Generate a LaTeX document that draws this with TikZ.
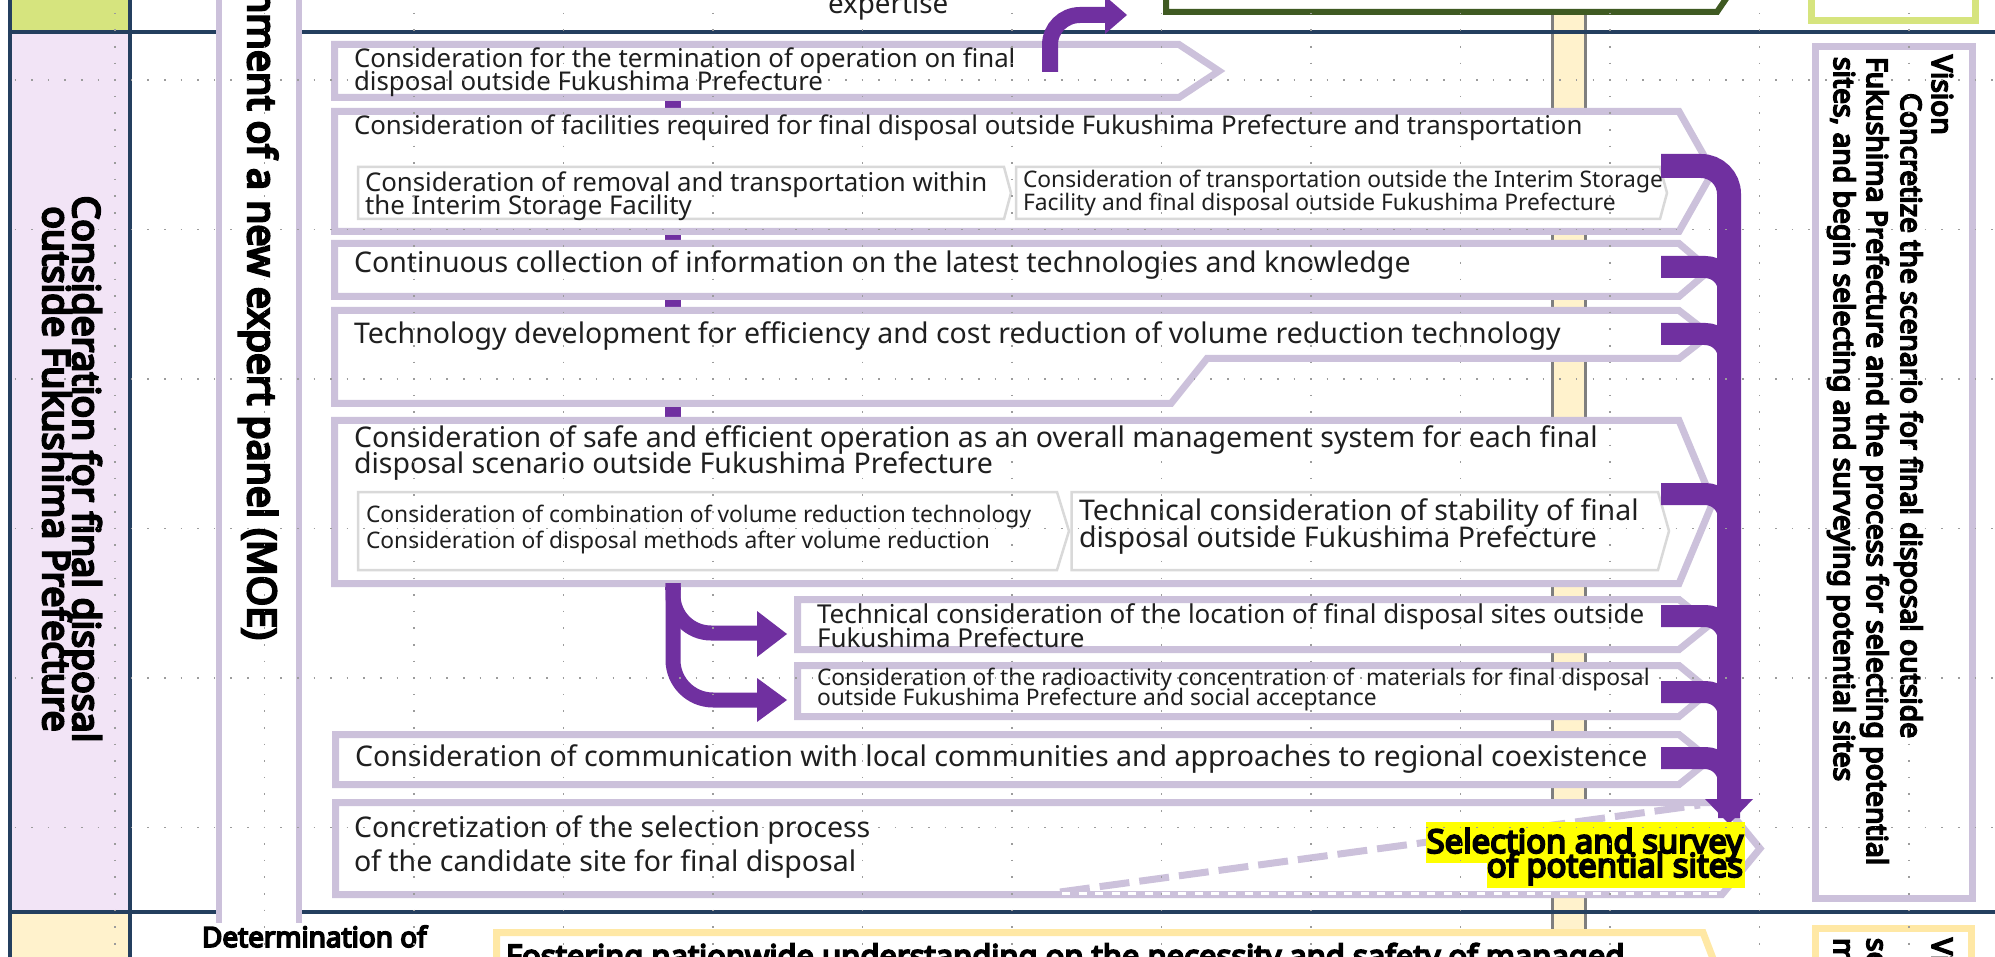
\documentclass[tikz,border=0pt]{standalone}
\usepackage{fontspec}
\setmainfont{Noto Sans}
\newfontfamily\nsbold{Noto Sans}[FakeBold=6]
\definecolor{lav}{HTML}{CCC1DB}
\definecolor{purp}{HTML}{7030A0}
\definecolor{navy}{HTML}{243F5F}
\definecolor{olive}{HTML}{3F5A22}
\definecolor{lgreen}{HTML}{D6E47E}
\definecolor{pinkc}{HTML}{F2E4F6}
\definecolor{cream}{HTML}{FFF2CC}
\definecolor{creamb}{HTML}{FFE8A5}
\definecolor{grayb}{HTML}{D9D9D9}
\definecolor{barg}{HTML}{7F7F7F}
\definecolor{dotc}{HTML}{9C9C9C}
\definecolor{hl}{HTML}{FFFF00}
\newcommand\myfa{\fontsize{25.8pt}{26pt}\selectfont}
\newcommand\myfb{\fontsize{28.5pt}{29pt}\selectfont}
\newcommand\myfc{\fontsize{22.8pt}{23pt}\selectfont}
\newcommand\myff{\fontsize{26pt}{26pt}\selectfont}
\newcommand\myfx{\fontsize{27.8pt}{28pt}\selectfont}
\newcommand\myft{\nsbold\fontsize{37.4pt}{37pt}\selectfont}
\newcommand\myfp{\nsbold\fontsize{39.2pt}{39pt}\selectfont}
\newcommand\myfv{\nsbold\fontsize{28.3pt}{28pt}\selectfont}
\newcommand\myfy{\nsbold\fontsize{32.8pt}{33pt}\selectfont}
\newcommand\myfd{\nsbold\fontsize{27.9pt}{28pt}\selectfont}
\newcommand\myfo{\nsbold\fontsize{31pt}{31pt}\selectfont}
\tikzset{
  box/.style={draw=lav, line width=7pt, fill=white, line join=miter},
  ibox/.style={draw=grayb, line width=2.5pt, fill=white, line join=miter},
  t/.style={anchor=base west, inner sep=0pt, outer sep=0pt, text=black!88},
  te/.style={anchor=base east, inner sep=0pt, outer sep=0pt},
  vt/.style={anchor=base west, inner sep=0pt, outer sep=0pt, rotate=-90},
  pline/.style={draw=purp, line width=#1},
  phead/.style={fill=purp},
  dotline/.style={draw=dotc, line width=1.6pt, dash pattern=on 1.6pt off 15.01pt},
}
\begin{document}
\begin{tikzpicture}[x=1pt,y=-1pt]
\useasboundingbox (0,0) rectangle (1995,957);
\clip (0,0) rectangle (1995,957);
\fill[white] (0,0) rectangle (1995,957);
% left column cells
\fill[lgreen] (10,-5) rectangle (130,32);
\fill[pinkc] (10,32) rectangle (130,912);
\fill[cream] (10,912) rectangle (130,962);
% timeline bar
\draw[barg, line width=3pt, fill=cream] (1552.5,-5) rectangle (1585.5,962);
% separator lines
\draw[navy, line width=4pt] (8,32) -- (2000,32);
\draw[navy, line width=4pt] (8,912) -- (2000,912);
\draw[navy, line width=4pt] (10,-5) -- (10,962);
\draw[navy, line width=4pt] (130,-5) -- (130,962);
% expert panel column
\fill[white] (216,-5) rectangle (302,923);
\draw[lav, line width=6.3pt] (219,-5) -- (219,923);
\draw[lav, line width=6.3pt] (299,-5) -- (299,923);
\node[anchor=base east, inner sep=0pt, rotate=-90, font=\myfp] (panel) at (248,640) {Establishment of a new expert panel (MOE)};
% left title
\node[anchor=base, inner sep=0pt, rotate=-90, font=\myft] (lt1) at (73,469) {Consideration for final disposal};
\node[anchor=base, inner sep=0pt, rotate=-90, font=\myft] (lt2) at (43,469) {outside Fukushima Prefecture};
% top row
\node[t, font=\myfx] (exp) at (828,14) {expertise};
\draw[olive, line width=6pt, fill=white] (1166,-10) -- (1166,12) -- (1717,12) -- (1732,-10);
\draw[lgreen, line width=7pt] (1811,-10) -- (1811,21) -- (1975,21) -- (1975,-10);
% purple line behind boxes
\draw[pline=16pt] (673,95) -- (673,590);
% Box A
\draw[box] (334.5,44.5) -- (1179,44.5) -- (1219,71) -- (1179,97.5) -- (334.5,97.5) -- cycle;
\node[t, font=\myfa] (A1) at (354,68) {Consideration for the termination of operation on final};
\node[t, font=\myfa] (A2) at (354,90.5) {disposal outside Fukushima Prefecture};
% Box B
\draw[box] (334.5,111.5) -- (1679,111.5) -- (1713,171.5) -- (1679,231.5) -- (334.5,231.5) -- cycle;
\node[t, font=\myfa] (B) at (354,135) {Consideration of facilities required for final disposal outside Fukushima Prefecture and transportation};
\draw[ibox] (358,167) -- (1004,167) -- (1011,193) -- (1004,219) -- (358,219) -- cycle;
\node[t, font=\myfa] (B1a) at (365,192) {Consideration of removal and transportation within};
\node[t, font=\myfa] (B1b) at (365,215) {the Interim Storage Facility};
\draw[ibox] (1016,167) -- (1660,167) -- (1667,193) -- (1660,219) -- (1016,219) -- cycle;
\node[t, font=\myfc] (B2a) at (1023,188) {Consideration of transportation outside the Interim Storage};
\node[t, font=\myfc] (B2b) at (1023,211) {Facility and final disposal outside Fukushima Prefecture};
% Box C
\draw[box] (334.5,243.5) -- (1679,243.5) -- (1710,270) -- (1679,296.5) -- (334.5,296.5) -- cycle;
\node[t, font=\myfb] (C) at (354,273) {Continuous collection of information on the latest technologies and knowledge};
% Box D
\draw[box] (334.5,310.5) -- (1679,310.5) -- (1710,334.5) -- (1679,358.5) -- (1207,358.5) -- (1171,403.5) -- (334.5,403.5) -- cycle;
\node[t, font=\myfb] (D) at (354,344) {Technology development for efficiency and cost reduction of volume reduction technology};
% Box E
\draw[box] (334.5,420.5) -- (1679,420.5) -- (1713,502) -- (1679,583.5) -- (334.5,583.5) -- cycle;
\node[t, font=\myfb] (E1) at (354,447) {Consideration of safe and efficient operation as an overall management system for each final};
\node[t, font=\myfb] (E2) at (354,473) {disposal scenario outside Fukushima Prefecture};
\draw[ibox] (358,492) -- (1057,492) -- (1069,531) -- (1057,570) -- (358,570) -- cycle;
\node[t, font=\myfc] (Ea) at (366,522) {Consideration of combination of volume reduction technology};
\node[t, font=\myfc] (Eb) at (366,548) {Consideration of disposal methods after volume reduction};
\draw[ibox] (1071.5,492) -- (1658,492) -- (1669,531) -- (1658,570) -- (1071.5,570) -- cycle;
\node[t, font=\myfb] (Ec) at (1079,520) {Technical consideration of stability of final};
\node[t, font=\myfb] (Ed) at (1079,547) {disposal outside Fukushima Prefecture};
% Box F
\draw[box] (797.5,599.5) -- (1679,599.5) -- (1710,624.5) -- (1679,649.5) -- (797.5,649.5) -- cycle;
\node[t, font=\myff] (F1) at (817,623) {Technical consideration of the location of final disposal sites outside};
\node[t, font=\myff] (F2) at (817,647) {Fukushima Prefecture};
% Box G
\draw[box] (797.5,665.5) -- (1679,665.5) -- (1710,691) -- (1679,716.5) -- (797.5,716.5) -- cycle;
\node[t, font=\myfc] (G1) at (817,685) {Consideration of the radioactivity concentration of~ materials for final disposal};
\node[t, font=\myfc] (G2) at (817,705.5) {outside Fukushima Prefecture and social acceptance};
% Box H
\draw[box] (335.5,734.5) -- (1679,734.5) -- (1710,759.5) -- (1679,784.5) -- (335.5,784.5) -- cycle;
\node[t, font=\myfb] (H) at (355,766) {Consideration of communication with local communities and approaches to regional coexistence};
% Box I
\draw[box] (335.5,802.5) -- (1722,802.5) -- (1760,848.5) -- (1722,894.5) -- (335.5,894.5) -- cycle;
\draw[lav, line width=7pt, dash pattern=on 30pt off 10pt] (1060,892) -- (1700,805);
\draw[white, line width=3pt, dash pattern=on 8pt off 8.6pt] (1062,893) -- (1722,893);
\node[t, font=\myfb] (I1) at (354,837) {Concretization of the selection process};
\node[t, font=\myfb] (I2) at (354,871) {of the candidate site for final disposal};
% purple arrows on top
\coordinate (topS) at (1050,72);
\draw[pline=16pt, rounded corners=30pt] (topS) -- (1050,15) -- (1107,15);
\fill[phead] (1105,-4) -- (1127,15) -- (1105,34) -- cycle;
\coordinate (bigS) at (1661,166);
\coordinate (bigE) at (1729,801);
\draw[pline=24pt, rounded corners=28pt] (bigS) -- (1729,166) -- (bigE);
\fill[phead] (1705,799) -- (1729,824) -- (1753,799) -- cycle;
\foreach \yy in {267,334,494,616,692,758}{
  \draw[pline=22pt, rounded corners=24pt] (1661,\yy) -- (1729,\yy) -- (1729,\yy+60);
}
\draw[pline=15pt, rounded corners=38pt] (673,583) -- (673,633) -- (759,633);
\fill[phead] (757,611) -- (787,634) -- (757,657) -- cycle;
\draw[pline=15pt, rounded corners=40pt] (673,583) -- (673,700) -- (759,700);
\fill[phead] (757,678) -- (787,700) -- (757,722) -- cycle;
% highlighted label
\fill[hl] (1426,822) rectangle (1745,863);
\fill[hl] (1487,860) rectangle (1745,888);
\node[te, font=\myfy] (S1) at (1743,853) {Selection and survey};
\node[te, font=\myfy] (S2) at (1743,877) {of potential sites};
% vision box
\draw[lav, line width=7pt] (1815.5,46.5) rectangle (1972.5,898.5);
\node[vt, font=\myfv] (V1) at (1932,55) {Vision};
\node[vt, font=\myfv] (V2) at (1901,93) {Concretize the scenario for final disposal outside};
\node[vt, font=\myfv] (V3) at (1867,57) {Fukushima Prefecture and the process for selecting potential};
\node[vt, font=\myfv] (V4) at (1834,57) {sites, and begin selecting and surveying potential sites};
% bottom row
\node[t, font=\myfd, text=black] (det) at (202,947) {Determination of};
\draw[creamb, line width=7pt, fill=white] (496.5,990) -- (496.5,932.5) -- (1703,932.5) -- (1725,990);
\node[t, font=\myfo, text=black] (fos) at (506,967) {Fostering nationwide understanding on the necessity and safety of managed};
\draw[creamb, line width=7pt, fill=white] (1815.5,990) -- (1815.5,928.5) -- (1971.5,928.5) -- (1971.5,990);
\node[vt, font=\myfv] (W1) at (1932,938) {Vision};
\node[vt, font=\myfv] (W3) at (1867,938) {se};
\node[vt, font=\myfv] (W4) at (1834,938) {m};
% dotted grid
\foreach \yy in {80,229.5,379,528.5,678,827.5}{
  \draw[dotline] (-2.07,\yy) -- (2000,\yy);
}
\foreach \k in {0,...,12}{
  \draw[dotline] (115+149.5*\k,-3.85) -- (115+149.5*\k,962);
}
\end{tikzpicture}
\end{document}
